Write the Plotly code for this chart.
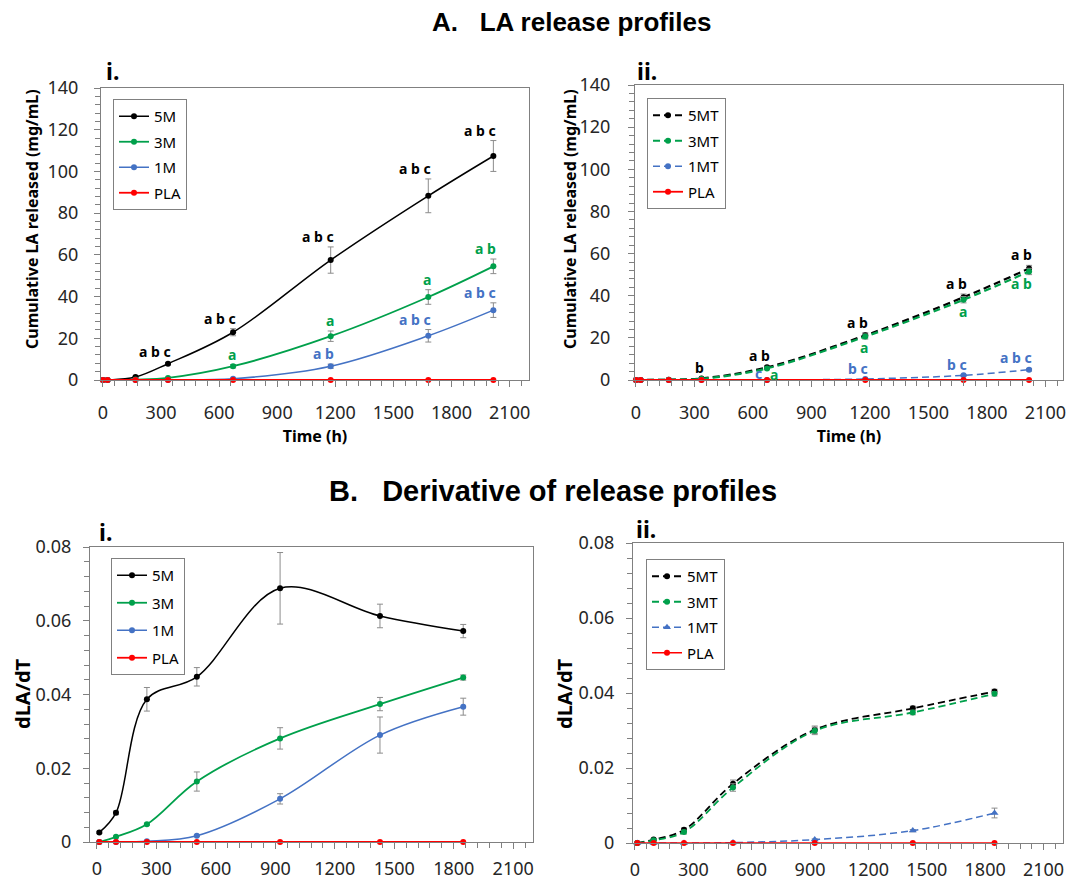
import plotly.graph_objects as go

# ---------------- data ----------------
t_cum = [0, 24, 168, 336, 672, 1176, 1680, 2016]

cum_5M = [0, 0, 1.4, 7.8, 22.9, 57.5, 88.3, 107.4]
cum_5M_err = [0, 0, 0.3, 0.6, 1.7, 6.3, 8.1, 7.4]
cum_3M = [0, 0, 0.2, 1.0, 6.6, 21.0, 39.8, 54.5]
cum_3M_err = [0, 0, 0.1, 0.3, 0.8, 2.5, 3.5, 3.5]
cum_1M = [0, 0, 0, 0.05, 0.6, 6.6, 21.2, 33.5]
cum_1M_err = [0, 0, 0, 0.1, 0.3, 1.0, 3.0, 3.5]
cum_PLA = [0, 0, 0, 0, 0, 0, 0, 0]

cum_5MT = [0, 0, 0.13, 0.72, 6.0, 21.2, 39.3, 52.9]
cum_5MT_err = [0, 0, 0.05, 0.2, 0.6, 1.2, 1.5, 1.5]
cum_3MT = [0, 0, 0.1, 0.57, 5.5, 20.6, 38.1, 51.5]
cum_3MT_err = [0, 0, 0.05, 0.2, 0.6, 1.2, 1.5, 1.5]
cum_1MT = [0, 0, 0, 0, 0.03, 0.5, 2.2, 4.9]
cum_1MT_err = [0, 0, 0, 0, 0.05, 0.2, 0.4, 0.6]

letters_5M = ["", "", "", "a b c", "a b c", "a b c", "a b c", "a b c"]
letters_3M = ["", "", "", "", "a", "a", "a", "a b"]
letters_1M = ["", "", "", "", "", "a b", "a b c", "a b c"]
letters_5MT = ["", "", "", "b", "a b", "a b", "a b", "a b"]
letters_3MT = ["", "", "", "", "a", "a", "a", "a b"]
letters_1MT = ["", "", "", "", "c", "b c", "b c", "a b c"]

t_der = [12, 96, 252, 504, 924, 1428, 1848]

der_5M = [0.0026, 0.0079, 0.0387, 0.0448, 0.0688, 0.0613, 0.0572]
der_5M_err = [0.0003, 0.0005, 0.0032, 0.0025, 0.0097, 0.0032, 0.0018]
der_3M = [0.0, 0.0014, 0.0048, 0.0164, 0.0281, 0.0374, 0.0446]
der_3M_err = [0, 0.0002, 0.0003, 0.0026, 0.0029, 0.0018, 0.0007]
der_1M = [0, 0, 0.0002, 0.0017, 0.0117, 0.0290, 0.0367]
der_1M_err = [0, 0, 0.0001, 0.0002, 0.0014, 0.0049, 0.0023]
der_PLA = [0, 0, 0, 0, 0, 0, 0]

der_5MT = [0, 0.0009, 0.0035, 0.0158, 0.0302, 0.0359, 0.0404]
der_5MT_err = [0, 0.0002, 0.0005, 0.0010, 0.0010, 0.0006, 0.0006]
der_3MT = [0, 0.0007, 0.0029, 0.0148, 0.0299, 0.0348, 0.0398]
der_3MT_err = [0, 0.0002, 0.0005, 0.0010, 0.0010, 0.0006, 0.0006]
der_1MT = [0, 0, 0, 0.0001, 0.0009, 0.0033, 0.0080]
der_1MT_err = [0, 0, 0, 0, 0.0002, 0.0003, 0.0013]

# ---------------- style ----------------
W, H = 1069, 883
BLACK, GREEN, BLUE, RED = "#000000", "#00A04B", "#4472C4", "#FF0000"
ERRC = "#8c8c8c"
AXC = "#808080"
FONT = "Noto Sans"

def px_x(a, b):
    return [a / W, b / W]

def px_y(top, bottom):
    return [1 - bottom / H, 1 - top / H]

fig = go.Figure()

def add_series(x, y, err, name, color, xa, ya, legend, dash="solid", width=1.6,
               symbol="circle", msize=6):
    fig.add_trace(go.Scatter(
        x=x, y=y, name=name, mode="lines+markers",
        xaxis=xa, yaxis=ya, legend=legend, legendgroup=legend + name,
        line=dict(color=color, width=width, dash=dash, shape="spline", smoothing=1),
        marker=dict(color=color, size=msize, symbol=symbol),
        error_y=dict(type="data", array=err, color=ERRC, thickness=1, width=3,
                     visible=True),
        cliponaxis=False,
    ))

DASH = "7px,4px"

# Panel A.i
add_series(t_cum, cum_5M, cum_5M_err, "5M", BLACK, "x", "y", "legend", width=1.5)
add_series(t_cum, cum_3M, cum_3M_err, "3M", GREEN, "x", "y", "legend", width=1.8)
add_series(t_cum, cum_1M, cum_1M_err, "1M", BLUE, "x", "y", "legend", width=1.5)
add_series(t_cum, cum_PLA, None, "PLA", RED, "x", "y", "legend", width=1.8)
# Panel A.ii
add_series(t_cum, cum_5MT, cum_5MT_err, "5MT", BLACK, "x2", "y2", "legend2", dash=DASH, width=2.2)
add_series(t_cum, cum_3MT, cum_3MT_err, "3MT", GREEN, "x2", "y2", "legend2", dash=DASH, width=2.2)
add_series(t_cum, cum_1MT, cum_1MT_err, "1MT", BLUE, "x2", "y2", "legend2", dash=DASH, width=1.5)
add_series(t_cum, cum_PLA, None, "PLA", RED, "x2", "y2", "legend2", width=1.8)
# Panel B.i
add_series(t_der, der_5M, der_5M_err, "5M", BLACK, "x3", "y3", "legend3", width=1.5)
add_series(t_der, der_3M, der_3M_err, "3M", GREEN, "x3", "y3", "legend3", width=1.8)
add_series(t_der, der_1M, der_1M_err, "1M", BLUE, "x3", "y3", "legend3", width=1.5)
add_series(t_der, der_PLA, None, "PLA", RED, "x3", "y3", "legend3", width=1.8)
# Panel B.ii
add_series(t_der, der_5MT, der_5MT_err, "5MT", BLACK, "x4", "y4", "legend4", dash=DASH, width=1.8)
add_series(t_der, der_3MT, der_3MT_err, "3MT", GREEN, "x4", "y4", "legend4", dash=DASH, width=1.8)
add_series(t_der, der_1MT, der_1MT_err, "1MT", BLUE, "x4", "y4", "legend4", dash=DASH, width=1.5,
           symbol="triangle-up", msize=7)
add_series(t_der, der_PLA, None, "PLA", RED, "x4", "y4", "legend4", width=1.5)

annotations = []

def letters(xref, yref, t, vals, errs, labels, color, place="above", overrides=None):
    overrides = overrides or {}
    for i, txt in enumerate(labels):
        if not txt:
            continue
        p = overrides.get(i, place)
        a = dict(xref=xref, yref=yref, x=t[i], text=txt, showarrow=False,
                 font=dict(family=FONT, size=14, color=color, weight="bold"))
        if p == "above":
            a.update(y=vals[i] + errs[i], yanchor="bottom", xanchor="right", xshift=5, yshift=-1)
        elif p == "below":
            a.update(y=vals[i] - errs[i], yanchor="top", xanchor="right", xshift=5, yshift=3)
        elif p == "right":
            a.update(y=vals[i], yanchor="middle", xanchor="left", xshift=1, yshift=-6)
        elif p == "upleft":
            a.update(y=vals[i], yanchor="middle", xanchor="right", xshift=-3, yshift=6)
        annotations.append(a)

letters("x", "y", t_cum, cum_5M, cum_5M_err, letters_5M, BLACK)
letters("x", "y", t_cum, cum_3M, cum_3M_err, letters_3M, GREEN)
letters("x", "y", t_cum, cum_1M, cum_1M_err, letters_1M, BLUE)
letters("x2", "y2", t_cum, cum_5MT, cum_5MT_err, letters_5MT, BLACK)
letters("x2", "y2", t_cum, cum_3MT, cum_3MT_err, letters_3MT, GREEN, place="below",
        overrides={4: "right"})
letters("x2", "y2", t_cum, cum_1MT, cum_1MT_err, letters_1MT, BLUE, overrides={4: "upleft"})

def paper_text(x, y, text, size, family=FONT, xanchor="center", angle=0):
    annotations.append(dict(xref="paper", yref="paper", x=x / W, y=1 - y / H, text=text,
                            showarrow=False, xanchor=xanchor, yanchor="middle",
                            textangle=angle,
                            font=dict(family=family, size=size, color="#000", weight="bold")))

# figure / panel titles
paper_text(571, 22, "A.   LA release profiles", 26, family="Liberation Sans")
paper_text(553, 491, "B.   Derivative of release profiles", 29, family="Liberation Sans")
paper_text(104, 71, "i.", 23, xanchor="left")
paper_text(635, 71, "ii.", 23, xanchor="left")
paper_text(97, 532, "i.", 23, xanchor="left")
paper_text(634, 529, "ii.", 23, xanchor="left")
# y-axis titles
paper_text(32, 219, "Cumulative LA released (mg/mL)", 16, angle=-90)
paper_text(570, 219, "Cumulative LA released (mg/mL)", 16, angle=-90)
paper_text(22, 694, "dLA/dT", 20, angle=-90)
paper_text(564, 694, "dLA/dT", 20, angle=-90)

tickfont = dict(family=FONT, size=18, color="#262626")
titlefont = dict(family=FONT, size=16, color="#000", weight="bold")

def xaxis(dom, anchor, rng, title=None, standoff_lbl=9):
    d = dict(domain=dom, anchor=anchor, range=rng, dtick=300, tick0=0,
             showline=True, linecolor=AXC, linewidth=1.2, mirror=True,
             ticks="outside", ticklen=6, tickcolor=AXC, tickwidth=1.2,
             minor=dict(dtick=60, ticks="outside", ticklen=5, tickcolor=AXC, tickwidth=1),
             showgrid=False, zeroline=False, tickfont=tickfont,
             ticklabelstandoff=standoff_lbl, automargin=False)
    if title:
        d["title"] = dict(text=title, font=titlefont, standoff=8)
    return d

def yaxis(dom, anchor, rng, dtick, mdtick, standoff_lbl=8):
    d = dict(domain=dom, anchor=anchor, range=rng, dtick=dtick, tick0=0,
             showline=True, linecolor=AXC, linewidth=1.2, mirror=True,
             ticks="outside", ticklen=6, tickcolor=AXC, tickwidth=1.2,
             minor=dict(dtick=mdtick, ticks="outside", ticklen=5, tickcolor=AXC, tickwidth=1),
             showgrid=False, zeroline=False, tickfont=tickfont, tickformat="~g",
             ticklabelstandoff=standoff_lbl, automargin=False)
    return d

def legend(x, y, gap):
    return dict(x=x / W, y=1 - y / H, xanchor="left", yanchor="top",
                bgcolor="white", bordercolor=AXC, borderwidth=1,
                font=dict(family=FONT, size=15, color="#000"),
                tracegroupgap=gap, itemwidth=30)

fig.update_layout(
    width=W, height=H, margin=dict(l=0, r=0, t=0, b=0, pad=0, autoexpand=False),
    paper_bgcolor="white", plot_bgcolor="white",
    showlegend=True,
    xaxis=xaxis(px_x(101, 529), "y", [-10, 2200], "Time (h)", standoff_lbl=10),
    yaxis=yaxis(px_y(88, 380), "x", [0, 140], 20, 4, standoff_lbl=12),
    xaxis2=xaxis(px_x(635, 1063), "y2", [-5, 2190], "Time (h)", standoff_lbl=10),
    yaxis2=yaxis(px_y(85, 380), "x2", [0, 140], 20, 4, standoff_lbl=14),
    xaxis3=xaxis(px_x(90, 533), "y3", [-35, 2200], standoff_lbl=4),
    yaxis3=yaxis(px_y(547, 842), "x3", [0, 0.08], 0.02, 0.004),
    xaxis4=xaxis(px_x(633, 1063), "y4", [-10, 2200], standoff_lbl=4),
    yaxis4=yaxis(px_y(543, 843), "x4", [0, 0.08], 0.02, 0.004),
    legend=legend(113, 99, 3),
    legend2=legend(647, 98, 3),
    legend3=legend(111, 558, 5),
    legend4=legend(646, 559, 3),
    annotations=annotations,
)

fig.write_html("out.html")
